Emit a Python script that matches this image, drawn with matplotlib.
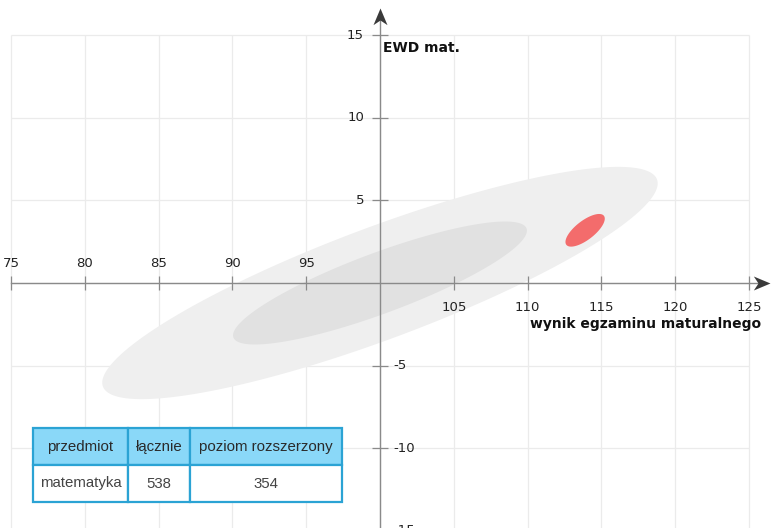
import numpy as np
import matplotlib
matplotlib.use("Agg")
import matplotlib.pyplot as plt
from matplotlib.path import Path

# ---- data ----
x_ticks = [75, 80, 85, 90, 95, 105, 110, 115, 120, 125]
y_ticks = [15, 10, 5, -5, -10, -15]
grid_x = [75, 80, 85, 90, 95, 100, 105, 110, 115, 120, 125]
grid_y = [-15, -10, -5, 0, 5, 10, 15]

# ellipses: outer band, inner band, school
ell_cx = [100.0, 100.0, 113.9]
ell_cy = [0.0, 0.0, 3.19]
ell_major_dx = [18.77, 9.93, 1.27]
ell_major_dy = [6.27, 3.30, 0.88]
ell_minor_dx = [-1.33, -0.72, -0.40]
ell_minor_dy = [3.18, 1.72, 0.45]
ell_colors = ['#efefef', '#e1e1e1', '#f36c6c']

table_columns = ['przedmiot', 'łącznie', 'poziom rozszerzony']
table_row = ['matematyka', '538', '354']

x_label = 'wynik egzaminu maturalnego'
y_label = 'EWD mat.'

# ---- figure ----
fig = plt.figure(figsize=(7.73, 5.28), dpi=100)
ax = fig.add_axes([0, 0, 1, 1])
ax.set_xlim(74.255, 126.63)
ax.set_ylim(-14.83, 17.13)
ax.axis('off')

# grid
ax.vlines(grid_x, -16, 15, color='#ebebeb', lw=0.9, zorder=0)
ax.hlines(grid_y, 75, 125, color='#ebebeb', lw=0.9, zorder=0)

# ellipses
t = np.linspace(0, 2 * np.pi, 300)
for i in range(len(ell_cx)):
    ex = ell_cx[i] + ell_major_dx[i] * np.cos(t) + ell_minor_dx[i] * np.sin(t)
    ey = ell_cy[i] + ell_major_dy[i] * np.cos(t) + ell_minor_dy[i] * np.sin(t)
    ax.fill(ex, ey, color=ell_colors[i], lw=0, zorder=1 + i)

# axes lines
x_tip = 126.45
y_tip = 16.65
ax.plot([75, x_tip - 0.3], [0, 0], color='#8a8a8a', lw=1, zorder=5)
ax.plot([100, 100], [-16, y_tip - 0.3], color='#8a8a8a', lw=1, zorder=5)

# arrow heads
right_arrow = Path([(0, 0), (-1, 0.42), (-0.72, 0), (-1, -0.42), (0, 0)],
                   [Path.MOVETO, Path.LINETO, Path.LINETO, Path.LINETO, Path.CLOSEPOLY])
up_arrow = Path([(0, 0), (-0.42, -1), (0, -0.72), (0.42, -1), (0, 0)],
                [Path.MOVETO, Path.LINETO, Path.LINETO, Path.LINETO, Path.CLOSEPOLY])
ax.plot([x_tip], [0], marker=right_arrow, markersize=24, color='#3a3a3a',
        markeredgewidth=0, zorder=6, clip_on=False)
ax.plot([100], [y_tip], marker=up_arrow, markersize=24, color='#3a3a3a',
        markeredgewidth=0, zorder=6, clip_on=False)

# tick marks
ax.plot(x_ticks, [0] * len(x_ticks), linestyle='none', marker='|', markersize=10,
        markeredgewidth=0.9, color='#8a8a8a', zorder=5)
ax.plot([100] * len(y_ticks), y_ticks, linestyle='none', marker='_', markersize=11,
        markeredgewidth=0.9, color='#8a8a8a', zorder=5, clip_on=False)

# tick labels
tick_font = dict(family='DejaVu Sans', size=9.5, color='#222222')
for xv in x_ticks:
    if xv < 100:
        ax.annotate(str(xv), xy=(xv, 0), xytext=(0, 13.7), textcoords='offset points',
                    ha='center', va='center', **tick_font)
    else:
        ax.annotate(str(xv), xy=(xv, 0), xytext=(0, -17.3), textcoords='offset points',
                    ha='center', va='center', **tick_font)
for yv in y_ticks:
    if yv > 0:
        ax.annotate(str(yv), xy=(100, yv), xytext=(-11.5, 0), textcoords='offset points',
                    ha='right', va='center', annotation_clip=False, **tick_font)
    else:
        ax.annotate(str(yv), xy=(100, yv), xytext=(9.4, 0), textcoords='offset points',
                    ha='left', va='center', annotation_clip=False, **tick_font)

# axis labels
ax.annotate(y_label, xy=(100, 15), xytext=(2.2, -9.4), textcoords='offset points',
            ha='left', va='center', family='DejaVu Sans', weight='bold', size=10,
            color='#111111')
ax.annotate(x_label, xy=(125, 0), xytext=(9.0, -29.5), textcoords='offset points',
            ha='right', va='center', family='DejaVu Sans', weight='bold', size=10,
            color='#111111')

# table
W, H = 773.0, 528.0
x0, x1 = 33 / W, 342 / W
y0, y1 = 1 - 502 / H, 1 - 428 / H
col_w = [95, 62, 152]
tbl = ax.table(cellText=[table_row], colLabels=table_columns,
               colWidths=[c / sum(col_w) for c in col_w],
               cellLoc='center', bbox=[x0, y0, x1 - x0, y1 - y0], zorder=10)
tbl.auto_set_font_size(False)
for (r, c), cell in tbl.get_celld().items():
    cell.set_edgecolor('#2ba3d4')
    cell.set_linewidth(1.6)
    cell.set_facecolor('#8ad8f8' if r == 0 else 'white')
    cell.get_text().set_fontfamily('Liberation Sans')
    cell.get_text().set_fontsize(10.8)
    cell.get_text().set_color('#2a2a2a' if r == 0 else '#444444')

fig.savefig('out.png', dpi=100)
